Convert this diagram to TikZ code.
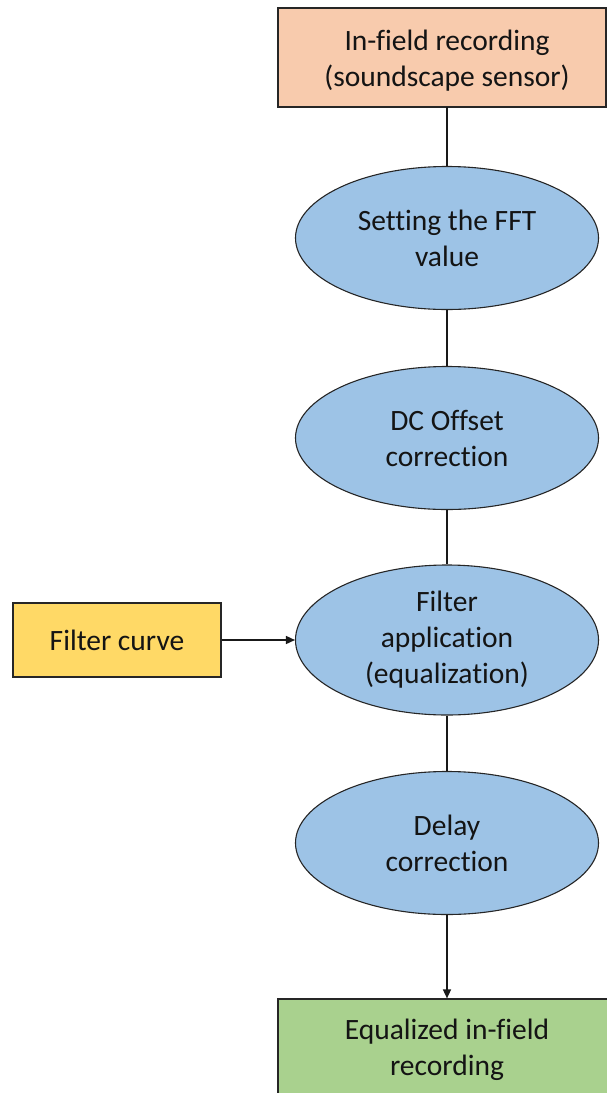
\documentclass[tikz,border=0pt]{standalone}
\usepackage{fontspec}
\setmainfont{Carlito}[Ligatures=NoCommon]
\usetikzlibrary{shapes.geometric,arrows.meta}
\definecolor{peach}{HTML}{F8CBAD}
\definecolor{skyblue}{HTML}{9DC3E6}
\definecolor{goldy}{HTML}{FFD966}
\definecolor{leafgreen}{HTML}{A9D18E}
\tikzset{
  lbl/.style={font=\fontsize{29.5}{36}\selectfont, align=center, text=black!92},
  boxnode/.style={draw=black!85, line width=1.2pt, rectangle, inner sep=0pt},
  ellnode/.style={lbl, draw=black!85, line width=1.1pt, ellipse, fill=skyblue, inner sep=0pt, minimum width=303pt, minimum height=143pt},
  conn/.style={draw=black!90, line width=1.5pt},
  arr/.style={conn, -{Triangle[length=9pt,width=8pt]}}
}
\begin{document}
\begin{tikzpicture}[x=1pt,y=-1pt]
\useasboundingbox (0,0) rectangle (607,1093);
\clip (0,0) rectangle (607,1093);
\node[boxnode, fill=peach, minimum width=328pt, minimum height=99pt] (rec) at (442,57.5) {};
\node[lbl] (rect) at (447,61) {In-field recording\\(soundscape sensor)};
\node[ellnode] (fft) at (447,238) {Setting the FFT\\value};
\node[ellnode] (dc) at (447,438) {DC Offset\\correction};
\node[ellnode, minimum height=150pt] (filt) at (447,640) {Filter\\application\\(equalization)};
\node[ellnode] (delay) at (447,843) {Delay\\correction};
\node[boxnode, fill=goldy, minimum width=208pt, minimum height=74pt] (curve) at (117,640) {};
\node[lbl] (curvet) at (117,640) {Filter curve};
\node[boxnode, fill=leafgreen, minimum width=330pt, minimum height=110pt] (eq) at (443,1054) {};
\node[lbl] (eqt) at (447,1050) {Equalized in-field\\recording};
\coordinate (rb) at (447,107);
\draw[conn] (rb) -- (fft.north);
\draw[conn] (fft.south) -- (dc.north);
\draw[conn] (dc.south) -- (filt.north);
\draw[conn] (filt.south) -- (delay.north);
\draw[arr] (delay.south) -- (delay.south |- eq.north);
\draw[arr] (curve.east) -- (curve.east -| filt.west);
\end{tikzpicture}
\end{document}
